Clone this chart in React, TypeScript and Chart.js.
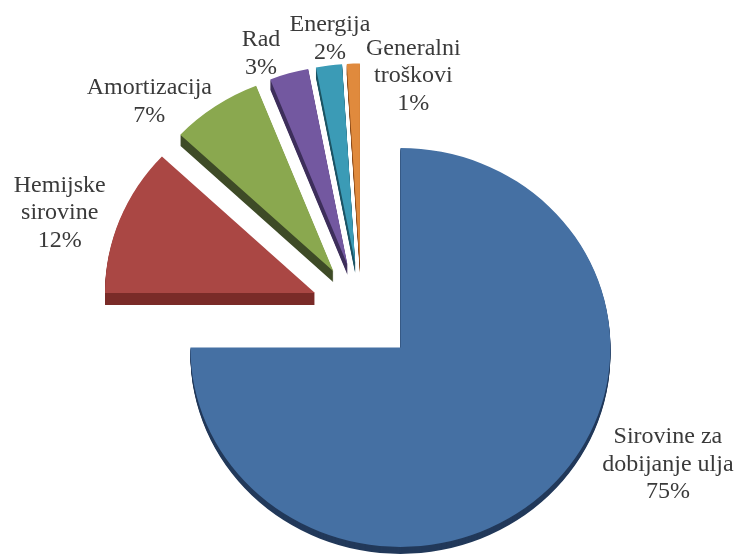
import React, { useEffect, useRef } from "react";
import { Chart, registerables } from "chart.js";

Chart.register(...registerables);

// ---- data ----
const categories = [
  "Sirovine za dobijanje ulja",
  "Hemijske sirovine",
  "Amortizacija",
  "Rad",
  "Energija",
  "Generalni troškovi",
];
const labelLines = [
  ["Sirovine za", "dobijanje ulja"],
  ["Hemijske", "sirovine"],
  ["Amortizacija"],
  ["Rad"],
  ["Energija"],
  ["Generalni", "troškovi"],
];
const shares = [75, 12, 7, 3, 2, 1];

// ---- styles ----
const faceColors = ["#4570A3", "#AA4744", "#8AA84F", "#7358A0", "#3B9BB6", "#E08A3D"];
const sideColors = ["#22395A", "#7A2B28", "#3E4B27", "#3E2F5B", "#1E5565", "#8A4A1A"];
const explode = [55, 50, 50, 50, 50, 50];
const depth = [7, 12, 11, 10, 10, 10];
const labelShift: [number, number][] = [
  [119, -45.5],
  [-60, -28],
  [-66, -12],
  [-28, -27],
  [1, -34],
  [60, -9],
];
const SQUASH = 0.95;
const LINE_H = 27.5;
const FONT = '24px "Liberation Serif", "Times New Roman", serif';

const pie3d = {
  id: "pie3d",
  beforeDatasetDraw(chart: any, args: any) {
    const ctx: CanvasRenderingContext2D = chart.ctx;
    const meta = chart.getDatasetMeta(args.index);
    const arcs = meta.data as any[];
    if (!arcs.length) return false;
    const cx = arcs[0].x;
    const cy = arcs[0].y;
    const shift = (i: number) => {
      const a = arcs[i];
      const mid = (a.startAngle + a.endAngle) / 2;
      return [Math.cos(mid) * explode[i], Math.sin(mid) * explode[i]];
    };
    ctx.save();
    ctx.translate(cx, cy);
    ctx.scale(1, SQUASH);
    ctx.translate(-cx, -cy);
    // extruded sides
    arcs.forEach((a, i) => {
      const [dx, dy] = shift(i);
      ctx.fillStyle = sideColors[i];
      for (let k = depth[i]; k >= 1; k--) {
        const ox = a.x + dx;
        const oy = a.y + dy + k / SQUASH;
        ctx.beginPath();
        ctx.moveTo(ox, oy);
        ctx.arc(ox, oy, a.outerRadius, a.startAngle, a.endAngle);
        ctx.closePath();
        ctx.fill();
      }
    });
    // faces
    arcs.forEach((a, i) => {
      const [dx, dy] = shift(i);
      ctx.save();
      ctx.translate(dx, dy);
      a.draw(ctx, chart.chartArea);
      ctx.restore();
    });
    ctx.restore();
    return false;
  },
  afterDraw(chart: any) {
    const ctx: CanvasRenderingContext2D = chart.ctx;
    const arcs = chart.getDatasetMeta(0).data as any[];
    ctx.save();
    ctx.font = FONT;
    ctx.fillStyle = "#3a3a3a";
    ctx.textAlign = "center";
    ctx.textBaseline = "alphabetic";
    arcs.forEach((a, i) => {
      const mid = (a.startAngle + a.endAngle) / 2;
      const r = a.outerRadius + explode[i];
      const ax = a.x + Math.cos(mid) * r;
      const ay = a.y + Math.sin(mid) * r * SQUASH;
      const x = ax + labelShift[i][0];
      const y = ay + labelShift[i][1];
      const lines = [...labelLines[i], shares[i] + "%"];
      lines.forEach((t, j) => ctx.fillText(t, x, y + j * LINE_H));
    });
    ctx.restore();
  },
};

export default function App() {
  const ref = useRef<HTMLCanvasElement>(null);
  useEffect(() => {
    if (!ref.current) return;
    const chart = new Chart(ref.current, {
      type: "pie",
      data: {
        labels: categories,
        datasets: [
          {
            data: shares,
            backgroundColor: faceColors,
            borderWidth: 0,
            radius: 210,
            clip: false,
          } as any,
        ],
      },
      options: {
        animation: false,
        responsive: false,
        events: [],
        layout: { padding: { top: 62, right: 18, left: 0, bottom: 0 } },
        plugins: {
          legend: { display: false },
          tooltip: { enabled: false },
          title: { display: false },
        },
      } as any,
      plugins: [pie3d],
    });
    return () => chart.destroy();
  }, []);
  return (
    <div style={{ position: "absolute", left: 0, top: 0, width: 741, height: 559, background: "#fff" }}>
      <canvas ref={ref} width={741} height={559} style={{ display: "block" }} />
    </div>
  );
}
